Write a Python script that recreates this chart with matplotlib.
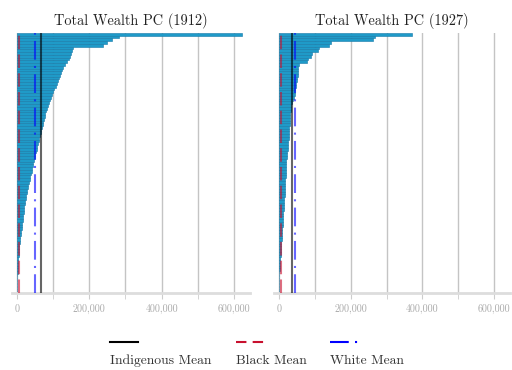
import matplotlib
matplotlib.use("Agg")
import matplotlib.pyplot as plt
from matplotlib.lines import Line2D
from matplotlib.ticker import FuncFormatter, MultipleLocator
import numpy as np

plt.rcParams['font.family'] = 'serif'
plt.rcParams['font.serif'] = ['cmr10', 'DejaVu Serif']
plt.rcParams['axes.unicode_minus'] = False
plt.rcParams['axes.formatter.use_mathtext'] = True

# Wealth per capita by unit, sorted descending (thousands)
wealth_1912 = [622, 282, 262, 249, 238, 155, 152, 149, 146, 144,
               139, 133, 128, 124, 121, 119, 116, 113, 110, 107,
               104, 101, 98, 95, 92, 89, 86, 83, 81, 79,
               77, 75, 73, 72, 70, 68, 66, 64, 62, 60,
               58, 56, 55, 53, 51, 50, 48, 46, 44, 42,
               41, 39, 37, 35, 33, 32, 30, 29, 27, 25,
               24, 23, 22, 21, 20, 19, 18, 17, 16, 15,
               14, 13, 12, 11, 10, 9, 8, 7, 6.5, 6,
               5.5, 5, 4.5, 4, 3.5, 3, 2.5, 2, 1.7, 1.4,
               1.1, 0.8, 0.5, 0.3, 0.1]
wealth_1927 = [372, 269, 262, 144, 140, 112, 108, 92, 90, 80,
               78, 57, 54, 53, 52, 52, 50, 49, 48, 47,
               46, 45, 44, 43, 40, 37, 35, 34, 33, 32,
               32, 31, 30, 30, 29, 29, 28, 27, 27, 26,
               26, 25, 24, 23, 22, 22, 21, 21, 20, 20,
               19, 19, 18.5, 18, 18, 17.5, 17, 16.5, 16, 15.5,
               15, 14.5, 14, 13.5, 13, 12.5, 12, 11.5, 11, 10.5,
               10, 9.5, 9, 8.5, 8, 7.5, 7, 6.5, 6, 5.5,
               5, 4.5, 4, 3.5, 3, 2.5, 2, 1.5, 1.2, 1,
               0.8, 0.5, 0.3, 0.2, 0.1]

years = ['1912', '1927']
indigenous_mean = [66, 36]
black_mean = [5.5, 5]
white_mean = [50, 46]

fig = plt.figure(figsize=(5.12, 3.70), dpi=100)
ax1 = fig.add_axes([0.023, 0.208, 0.465, 0.703])
ax2 = fig.add_axes([0.535, 0.208, 0.461, 0.703])

series = [wealth_1912, wealth_1927]
for i, ax in enumerate([ax1, ax2]):
    vals = np.array(series[i]) * 1000
    pos = np.arange(len(vals))
    ax.barh(pos, vals, height=1.0, color='#1f9ac8', edgecolor='#1479a8',
            linewidth=0.4, zorder=2)
    ax.axvline(indigenous_mean[i] * 1000, color='black', lw=1.5, alpha=0.6, zorder=3)
    ax.axvline(black_mean[i] * 1000, color='#c8102e', lw=1.5, alpha=0.6,
               dashes=(6.5, 2.5), zorder=3)
    ax.axvline(white_mean[i] * 1000, color='blue', lw=1.5, alpha=0.6,
               dashes=(9, 3, 1, 3), zorder=3)
    ax.set_ylim(len(vals) - 0.5, -0.5)
    ax.set_xlim(-14000, 644000)
    ax.set_yticks([])
    ax.xaxis.set_major_locator(MultipleLocator(200000))
    ax.xaxis.set_minor_locator(MultipleLocator(100000))
    ax.xaxis.set_major_formatter(FuncFormatter(lambda v, p: f'{int(v):,}'))
    ax.grid(axis='x', which='both', color='#c4c4c4', lw=1)
    ax.set_axisbelow(True)
    ax.tick_params(axis='x', which='both', length=4, color='#cccccc',
                   labelsize=7.2, labelcolor='#aaaaaa', pad=4)
    for s in ['top', 'left', 'right']:
        ax.spines[s].set_visible(False)
    ax.spines['bottom'].set_color('#dddddd')
    ax.spines['bottom'].set_linewidth(2)
    ax.set_title(f'Total Wealth PC ({years[i]})', fontsize=10.3, color='#222222', pad=6)

# legend: handle above label
legend_items = [('Indigenous Mean', 'black', None, 110),
                ('Black Mean', '#c8102e', (5, 3), 236),
                ('White Mean', 'blue', (9, 3, 1, 3), 330)]
for label, col, dash, px in legend_items:
    x0 = px / 512
    ln = Line2D([x0, x0 + 28 / 512], [1 - 342 / 370] * 2, color=col, lw=1.5,
                transform=fig.transFigure)
    if dash:
        ln.set_dashes(dash)
    fig.add_artist(ln)
    fig.text(x0, 1 - 361 / 370, label, fontsize=9.8, color='#333333', va='center', ha='left')

fig.savefig('out.png', dpi=100)
